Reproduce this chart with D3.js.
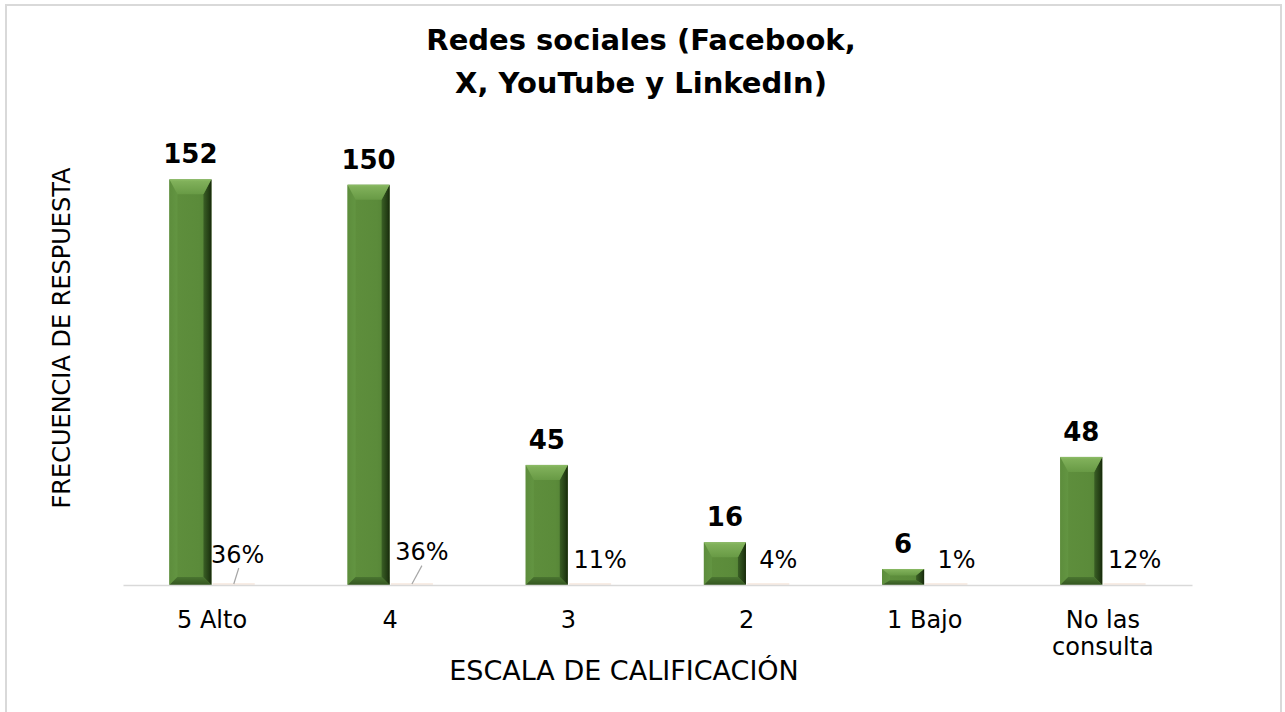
<!DOCTYPE html>
<html><head><meta charset="utf-8">
<script src="https://cdn.jsdelivr.net/npm/d3@7"></script>
<style>body{margin:0;background:#fff}svg{display:block}</style>
</head><body>
<svg id="chart" width="1285" height="712"></svg>
<script>
// ---- data ----
const titleLines = ["Redes sociales (Facebook,", "X, YouTube y LinkedIn)"];
const categories = ["5 Alto", "4", "3", "2", "1 Bajo", "No las consulta"];
const frequency = [152, 150, 45, 16, 6, 48];
const percentLabels = ["36%", "36%", "11%", "4%", "1%", "12%"];
const xAxisTitle = "ESCALA DE CALIFICACIÓN";
const yAxisTitle = "FRECUENCIA DE RESPUESTA";
const yMax = 160;

// ---- layout / style ----
const FONT = "'DejaVu Sans', Verdana, sans-serif";
const plot = {left: 123, right: 1192, top: 158, bottom: 585};
const labelNudge = [{dx: -6, dy: -5, leader: true}, {dx: 0, dy: -8, leader: true}, {dx: 0, dy: 0}, {dx: 0, dy: 0}, {dx: 0, dy: 0}, {dx: 0, dy: 0}];

const svg = d3.select("#chart");
const defs = svg.append("defs");

// frame
svg.append("rect").attr("x", 6).attr("y", 5).attr("width", 1275).attr("height", 720)
  .attr("fill", "#fff").attr("stroke", "#d9d9d9").attr("stroke-width", 2);

// title
svg.append("text").attr("text-anchor", "middle")
  .attr("font-family", FONT).attr("font-weight", "bold").attr("font-size", 29).attr("fill", "#000")
  .selectAll("tspan").data(titleLines).join("tspan")
  .attr("x", 641).attr("y", (d, i) => 50 + i * 43).text(d => d);

// scales
const x0 = d3.scaleBand().domain(categories).range([plot.left, plot.right]).padding(0);
const xs = d3.scaleBand().domain(["freq", "pct"]).range([0, x0.bandwidth()]).paddingInner(0.03).paddingOuter(1.07);
const y = d3.scaleLinear().domain([0, yMax]).range([plot.bottom, plot.top]);

// gradients
function lin(id, horizontal, stops) {
  const g = defs.append("linearGradient").attr("id", id)
    .attr("x1", 0).attr("y1", 0).attr("x2", horizontal ? 1 : 0).attr("y2", horizontal ? 0 : 1);
  stops.forEach(([o, c]) => g.append("stop").attr("offset", o).attr("stop-color", c));
}
lin("face", true, [["0%", "#5f8f3d"], ["70%", "#5b8b3a"], ["100%", "#527f34"]]);
lin("topb", false, [["0%", "#8dbd66"], ["15%", "#80b05a"], ["100%", "#689a45"]]);
lin("leftb", true, [["0%", "#5d8d3c"], ["100%", "#63954 2".replace(" ", "")]]);
lin("rightb", true, [["0%", "#3a5f25"], ["70%", "#233d14"], ["100%", "#16270a"]]);
lin("botb", false, [["0%", "#4a7531"], ["100%", "#33551f"]]);

// bars with bevel
const bars = svg.append("g").selectAll("g").data(frequency).join("g");
bars.each(function(v, i) {
  const g = d3.select(this);
  const x = x0(categories[i]) + xs("freq");
  const w = xs.bandwidth();
  const top = y(v), bot = y(0), h = bot - top;
  const t = Math.min(15, h * 0.4), s = Math.min(8, w * 0.2), bb = Math.min(8, h * 0.3);
  const pts = a => a.map(p => p.join(",")).join(" ");
  g.append("rect").attr("x", x).attr("y", top).attr("width", w).attr("height", h).attr("fill", "url(#face)");
  g.append("polygon").attr("points", pts([[x, top], [x + s, top + t], [x + s, bot - bb], [x, bot]])).attr("fill", "url(#leftb)");
  g.append("polygon").attr("points", pts([[x + w, top], [x + w - s, top + t], [x + w - s, bot - bb], [x + w, bot]])).attr("fill", "url(#rightb)");
  g.append("polygon").attr("points", pts([[x, bot], [x + w, bot], [x + w - s, bot - bb], [x + s, bot - bb]])).attr("fill", "url(#botb)");
  g.append("polygon").attr("points", pts([[x, top], [x + w, top], [x + w - s, top + t], [x + s, top + t]])).attr("fill", "url(#topb)");
});

// zero-height percentage series marks
svg.append("g").selectAll("rect").data(percentLabels).join("rect")
  .attr("x", (d, i) => x0(categories[i]) + xs("pct")).attr("y", plot.bottom - 1.5)
  .attr("width", xs.bandwidth()).attr("height", 1).attr("fill", "#f2dccb");

// axis
const axis = svg.append("g").attr("transform", `translate(0,${plot.bottom})`)
  .call(d3.axisBottom(x0).tickSize(0).tickSizeOuter(0).tickFormat(""));
axis.select(".domain").attr("stroke", "#d9d9d9").attr("stroke-width", 1.5);

// category labels (wrapped)
function wrapWords(text, maxChars) {
  const words = text.split(" "), lines = [];
  let cur = "";
  words.forEach(wd => {
    const cand = cur ? cur + " " + wd : wd;
    if (cand.length > maxChars && cur) { lines.push(cur); cur = wd; } else cur = cand;
  });
  lines.push(cur);
  return lines;
}
svg.append("g").selectAll("text").data(categories).join("text")
  .attr("text-anchor", "middle").attr("font-family", FONT).attr("font-size", 24).attr("fill", "#000")
  .each(function(d) {
    const cx = x0(d) + x0.bandwidth() / 2;
    d3.select(this).selectAll("tspan").data(wrapWords(d, 10)).join("tspan")
      .attr("x", cx).attr("y", (l, j) => plot.bottom + 43 + j * 27).text(l => l);
  });

// value labels
svg.append("g").selectAll("text").data(frequency).join("text")
  .attr("x", (d, i) => x0(categories[i]) + xs("freq") + xs.bandwidth() / 2)
  .attr("y", d => y(d) - 16)
  .attr("text-anchor", "middle").attr("font-family", FONT).attr("font-weight", "bold")
  .attr("font-size", 26).attr("fill", "#000").text(d => d);

// percentage labels
const pctCenter = i => x0(categories[i]) + xs("pct") + xs.bandwidth() / 2;
svg.append("g").selectAll("text").data(percentLabels).join("text")
  .attr("x", (d, i) => pctCenter(i) + 10 + labelNudge[i].dx)
  .attr("y", (d, i) => plot.bottom - 17 + labelNudge[i].dy)
  .attr("text-anchor", "middle").attr("font-family", FONT).attr("font-size", 24).attr("fill", "#000").text(d => d);
svg.append("g").selectAll("line").data(percentLabels.filter((d, i) => labelNudge[i].leader)).join("line")
  .attr("x1", (d, i) => pctCenter(i) + 5 + (i === 1 ? 5 : 0))
  .attr("y1", (d, i) => plot.bottom - 13 + labelNudge[i].dy * 0.8)
  .attr("x2", (d, i) => pctCenter(i))
  .attr("y2", plot.bottom - 1)
  .attr("stroke", "#a6a6a6").attr("stroke-width", 1.2);

// axis titles
svg.append("text").attr("x", 624).attr("y", 680).attr("text-anchor", "middle")
  .attr("font-family", FONT).attr("font-size", 27).attr("fill", "#000").text(xAxisTitle);
svg.append("text").attr("transform", "translate(70,338) rotate(-90)").attr("text-anchor", "middle")
  .attr("font-family", FONT).attr("font-size", 24).attr("fill", "#000").text(yAxisTitle);
</script>
</body></html>
